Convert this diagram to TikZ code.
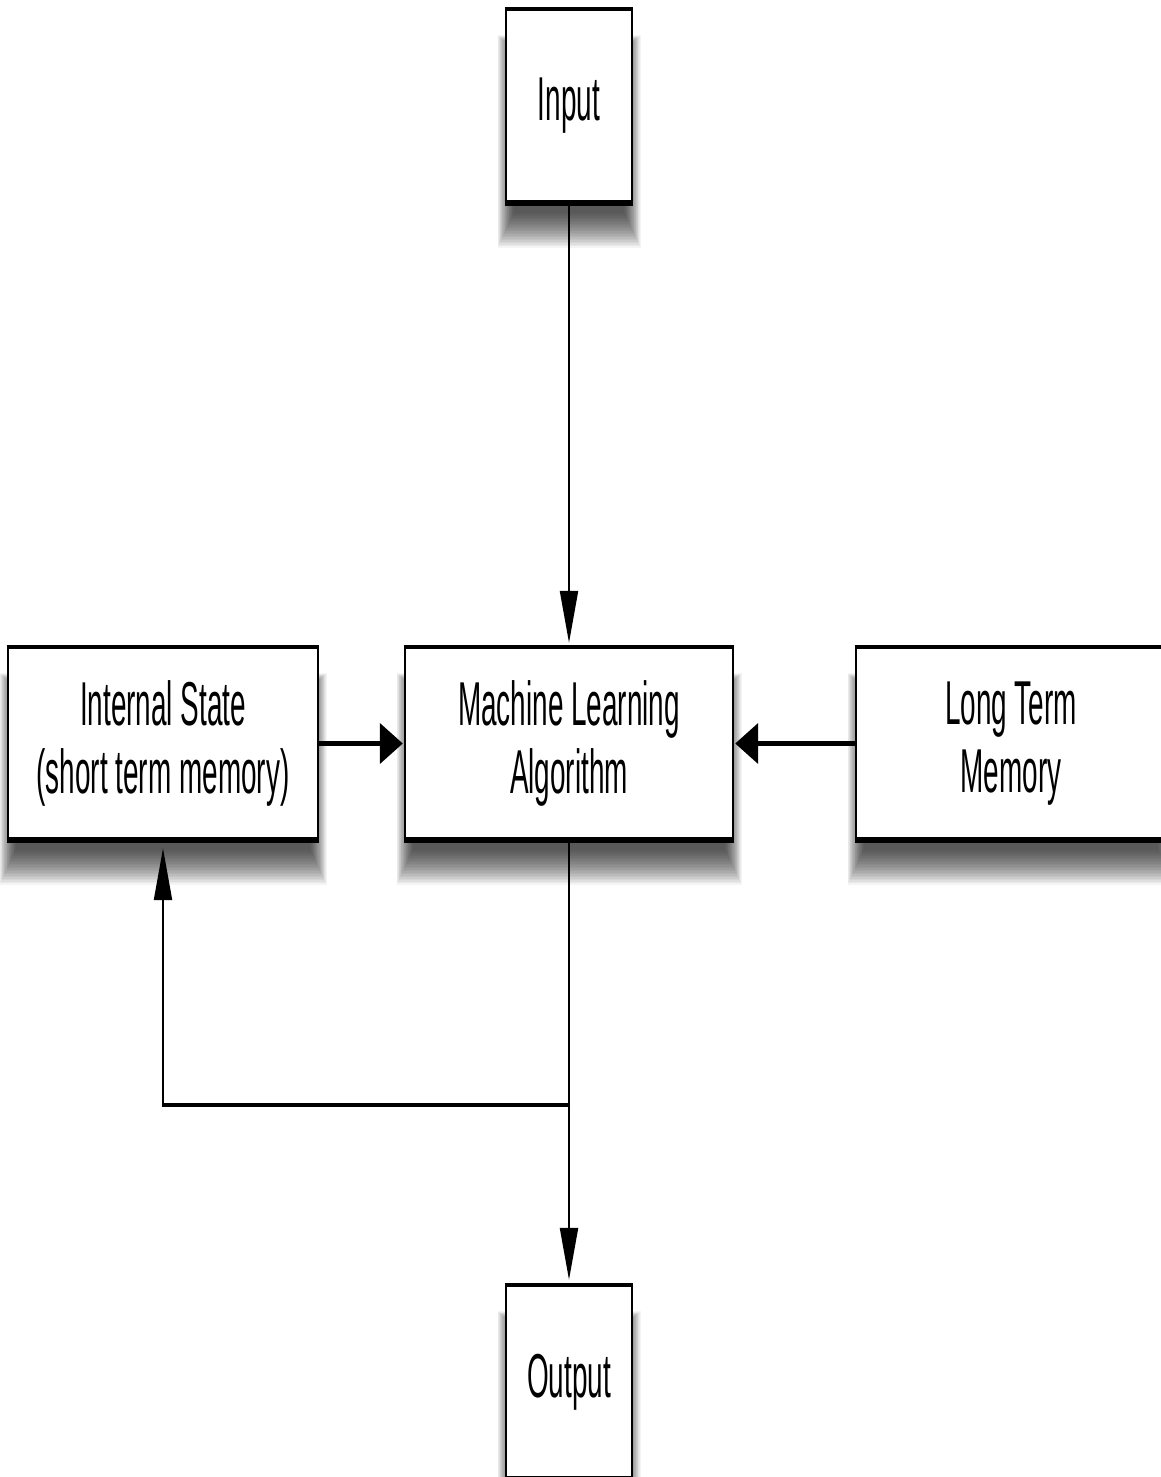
\documentclass[tikz,border=0pt]{standalone}
\usepackage{fontspec}
\setmainfont[FakeStretch=0.45]{Liberation Sans}
\usetikzlibrary{arrows.meta,calc,backgrounds}

% soft drop shadow under a box, built from stacked translucent layers
\newcommand\boxshadow[1]{%
  \foreach \k in {1,...,24}
    \fill[black,opacity=0.044]
      ($(#1.north west)+(-9+0.7*\k,26+0.6*\k)$) rectangle ($(#1.south east)+(9-0.7*\k,46-1.5*\k)$);
}
% box outline: thin sides, heavy top and bottom rules
\newcommand\frameedges[1]{%
  \draw[vline] (#1.north west) -- (#1.south west) (#1.north east) -- (#1.south east);
  \draw[line width=4.5pt] ([xshift=-1.1pt]#1.north west) -- ([xshift=1.1pt]#1.north east);
  \draw[line width=5.5pt] ([xshift=-1.1pt]#1.south west) -- ([xshift=1.1pt]#1.south east);
}

\begin{document}
\begin{tikzpicture}[x=1pt,y=-1pt,
  box/.style={fill=white, draw=none, inner sep=0pt, align=center,
              font=\fontsize{62}{68}\selectfont},
  vline/.style={line width=2.2pt},
  hline/.style={line width=4.5pt},
  vtip/.style={-{Triangle[length=52pt,width=18pt]}},
  htip/.style={-{Triangle[length=23pt,width=40pt]}}]

\useasboundingbox (0,0) rectangle (1161,1477);

\node[box, minimum width=126pt, minimum height=194pt] (in)  at (569,106)    {Input};
\node[box, minimum width=328pt, minimum height=193pt] (ml)  at (569,743.5)  {Machine Learning\\Algorithm};
\node[box, minimum width=310pt, minimum height=193pt] (st)  at (163,743.5)  {Internal State\\(short term memory)};
\node[box, minimum width=310pt, minimum height=193pt] (lt)  at (1011,743.5) {Long Term\\Memory};
\node[box, minimum width=126pt, minimum height=194pt] (out) at (569,1382)   {Output};

\begin{scope}[on background layer]
  \boxshadow{in}
  \boxshadow{ml}
  \boxshadow{st}
  \boxshadow{lt}
  \boxshadow{out}
\end{scope}

\frameedges{in}
\frameedges{ml}
\frameedges{st}
\frameedges{lt}
\frameedges{out}

% connectors
\draw[vline, vtip, shorten >=4pt] (in.south) -- (ml.north);
\draw[hline, htip, shorten >=2pt] (st.east) -- (ml.west);
\draw[hline, htip, shorten >=2pt] (lt.west) -- (ml.east);
\draw[vline, vtip, shorten >=5pt] (ml.south) -- (out.north);

\coordinate (split) at (569,1105);
\coordinate (corner) at (split -| st.south);
\draw[hline] ([xshift=1pt]split) -- ([xshift=-1.1pt]corner);
\draw[vline, vtip, shorten >=8pt] ([yshift=2.2pt]corner) -- (st.south);

\end{tikzpicture}
\end{document}
